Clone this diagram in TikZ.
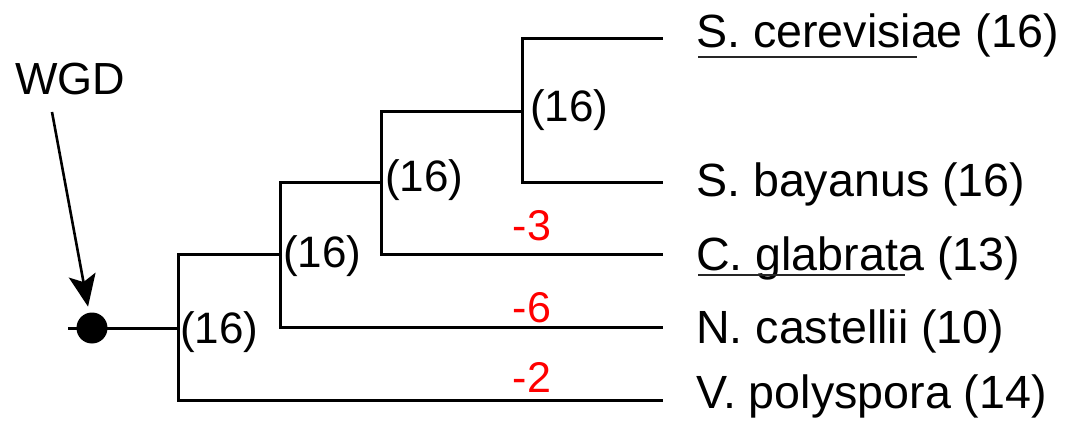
\documentclass[tikz,border=0pt]{standalone}
\usepackage{fontspec}
\setmainfont{Liberation Sans}
\usetikzlibrary{arrows.meta}
\begin{document}
\begin{tikzpicture}[x=1pt,y=-1pt,
  branch/.style={line width=3pt},
  leaf/.style={anchor=base west, inner sep=0pt, font=\fontsize{46.6}{50}\selectfont},
  count/.style={anchor=base west, inner sep=0pt, font=\fontsize{44}{50}\selectfont},
  loss/.style={anchor=base, inner sep=0pt, text=red, font=\fontsize{43}{50}\selectfont},
  uline/.style={line width=2.6pt, black!85},
  wgdarrow/.style={line width=2.6pt, -{Stealth[length=32pt,width=27pt,inset=7pt]}, shorten >=6pt},
  dotnode/.style={circle, fill=black, minimum size=31pt, inner sep=0pt}]
\useasboundingbox (0,0) rectangle (1066,422);

% internal nodes and leaf ends
\coordinate (r0) at (68,328);
\coordinate (n1) at (178,328);
\coordinate (n2) at (280,255);
\coordinate (n3) at (381,183);
\coordinate (n4) at (522,112);
\coordinate (lcer) at (663,39);
\coordinate (lbay) at (663,183);
\coordinate (lgla) at (663,255);
\coordinate (lcas) at (663,327);
\coordinate (lpol) at (663,400);

% branches
\draw[branch] (r0) -- (n1);
\draw[branch] (n1) |- (n2);
\draw[branch] (n1) |- (lpol);
\draw[branch] (n2) |- (n3);
\draw[branch] (n2) |- (lcas);
\draw[branch] (n3) |- (n4);
\draw[branch] (n3) |- (lgla);
\draw[branch] (n4) |- (lcer);
\draw[branch] (n4) |- (lbay);

% WGD
\node[dotnode] (dot) at (92,328) {};
\node[anchor=base west, inner sep=0pt, font=\fontsize{45}{50}\selectfont] (wgd) at (15,95) {WGD};
\coordinate (wgdtail) at (52,112);
\draw[wgdarrow] (wgdtail) -- (dot);

% internal counts
\node[count] (c1) at (180,343) {(16)};
\node[count] (c2) at (283,268) {(16)};
\node[count] (c3) at (385,192) {(16)};
\node[count] (c4) at (530,122) {(16)};

% losses
\node[loss] (m3) at (532,241) {-3};
\node[loss] (m6) at (532,322) {-6};
\node[loss] (m2) at (532,392) {-2};

% leaves
\node[leaf] (cer) at (696,48) {S. cerevisiae (16)};
\node[leaf] (bay) at (696,197) {S. bayanus (16)};
\node[leaf] (gla) at (696,270) {C. glabrata (13)};
\node[leaf] (cas) at (696,343) {N. castellii (10)};
\node[leaf] (pol) at (696,408) {V. polyspora (14)};

% underlines
\draw[uline] ([xshift=2pt,yshift=-9pt]cer.base west) -- ++(219,0);
\draw[uline] ([xshift=2pt,yshift=-5pt]gla.base west) -- ++(207,0);
\end{tikzpicture}
\end{document}
